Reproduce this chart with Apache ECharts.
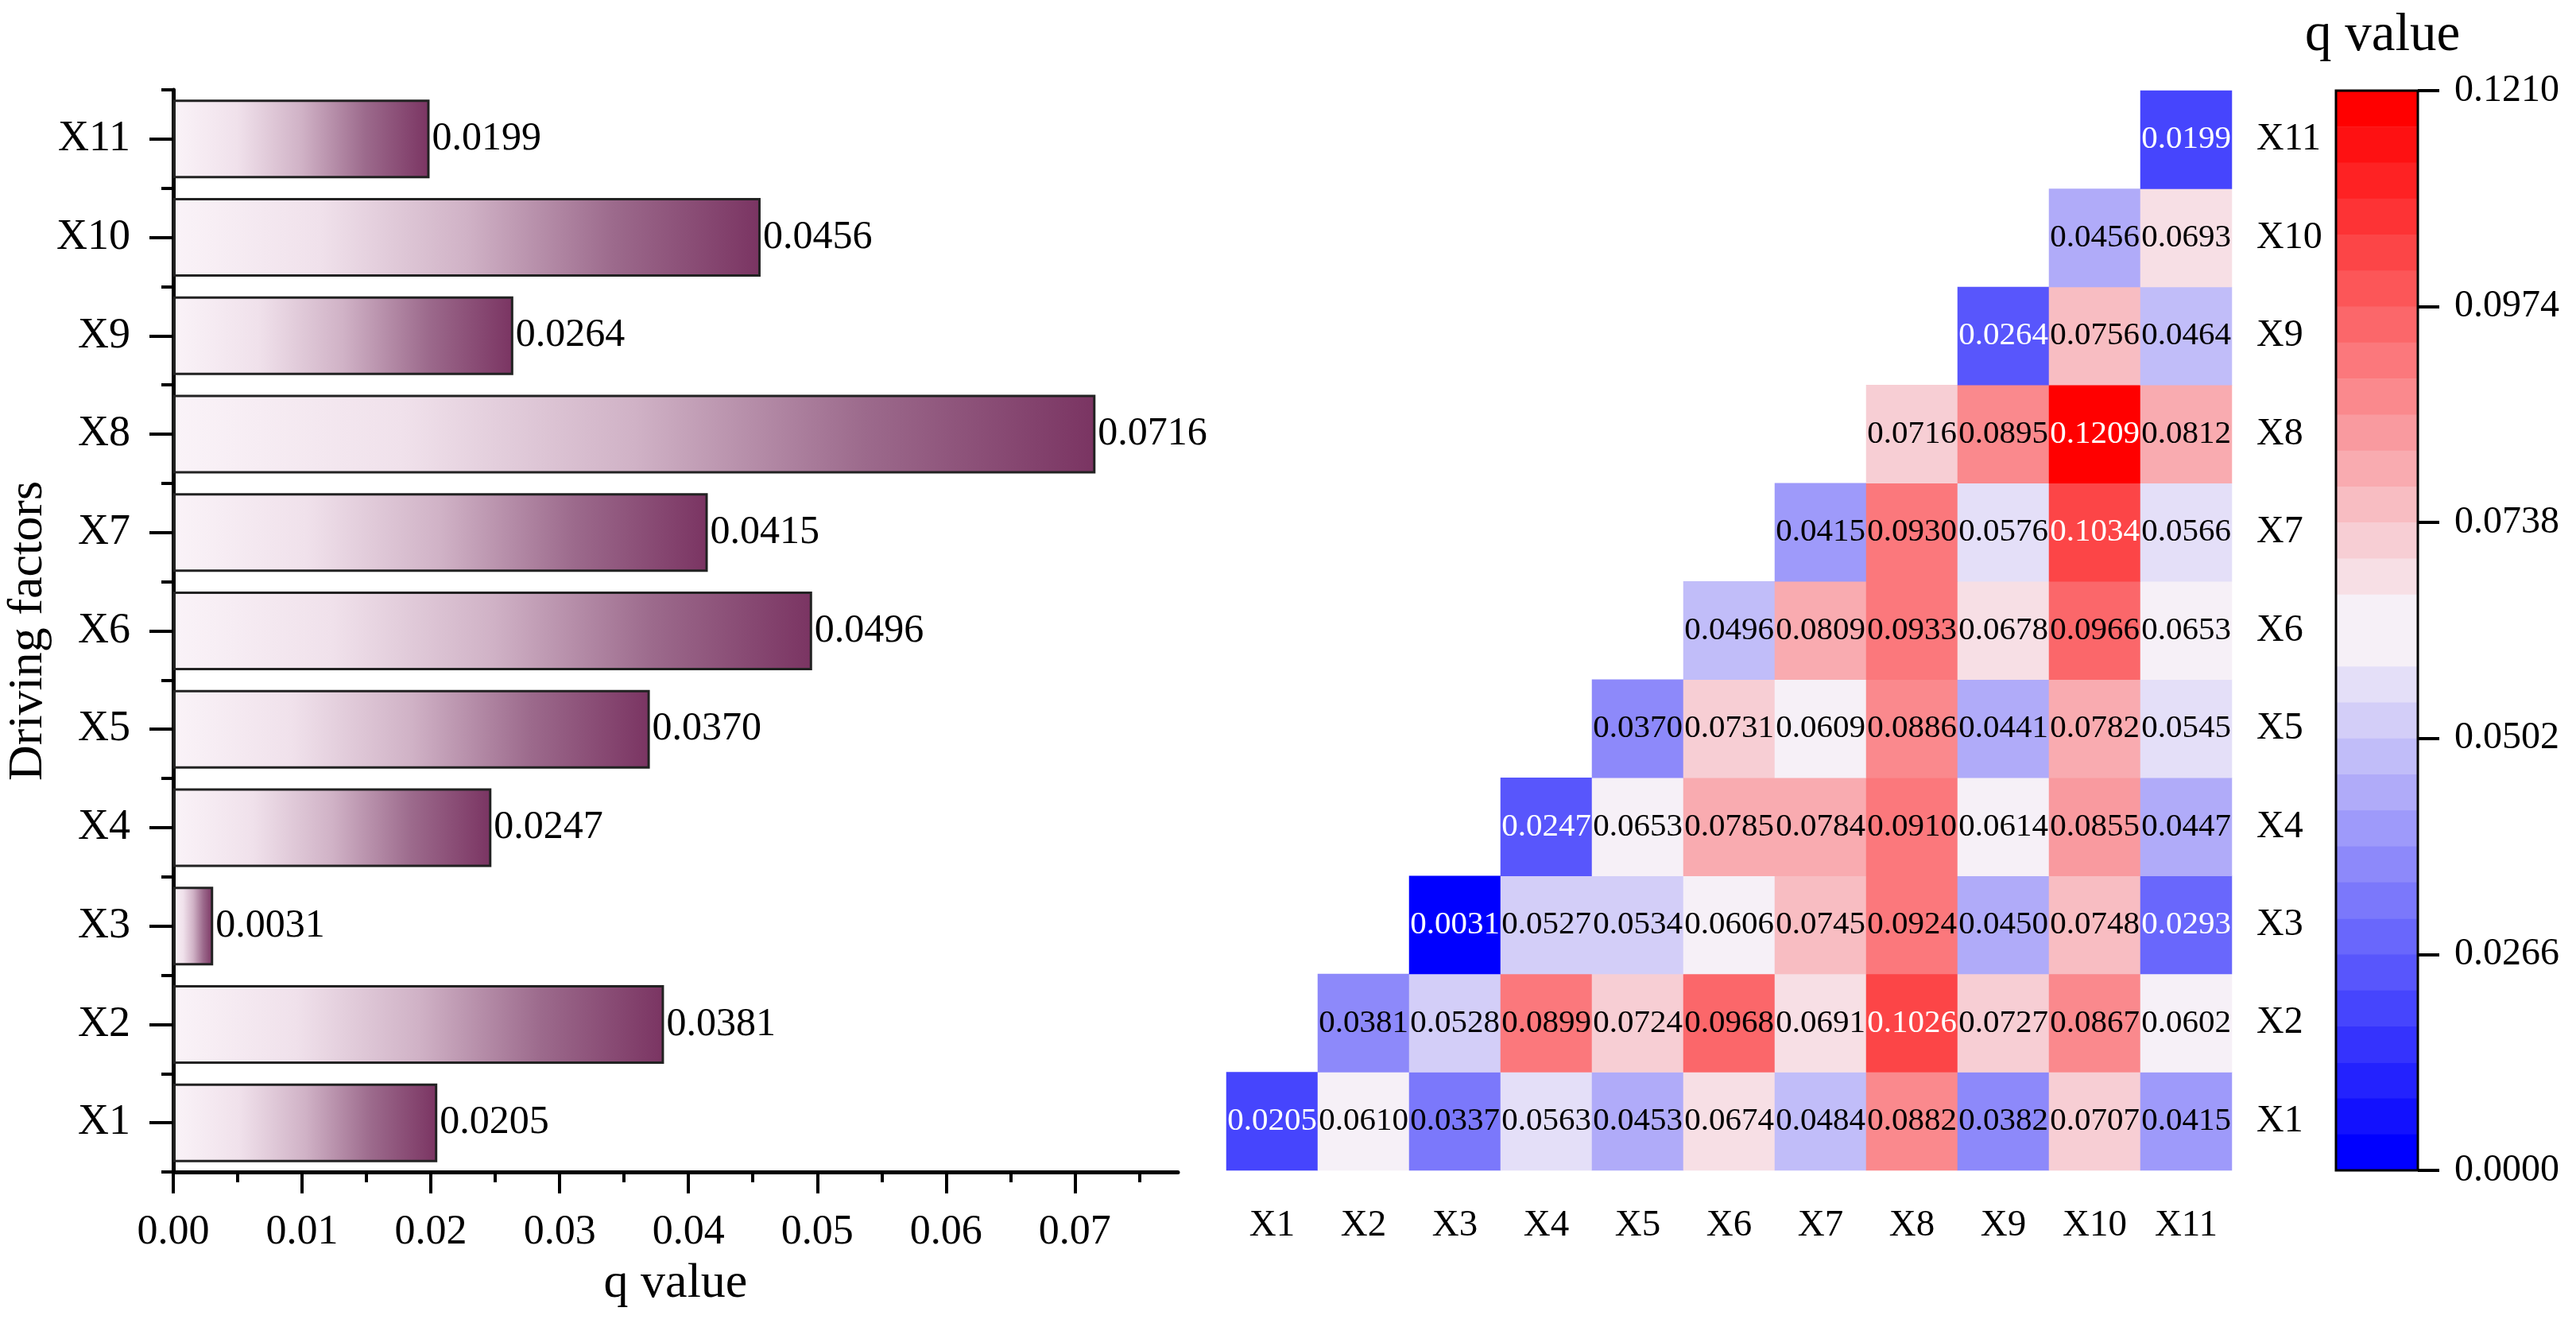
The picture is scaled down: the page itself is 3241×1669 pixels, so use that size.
<!DOCTYPE html>
<html>
<head>
<meta charset="utf-8">
<script src="https://cdn.jsdelivr.net/npm/echarts@6/dist/echarts.min.js"></script>
<style>
  html, body { margin: 0; padding: 0; background: #fff; }
  #main { width: 3241px; height: 1669px; }
</style>
</head>
<body>
<div id="main"></div>
<script>
// driving factors, bottom to top
var factors = ['X1', 'X2', 'X3', 'X4', 'X5', 'X6', 'X7', 'X8', 'X9', 'X10', 'X11'];
// single factor q values
var qValues = [0.0205, 0.0381, 0.0031, 0.0247, 0.0370, 0.0496, 0.0415, 0.0716, 0.0264, 0.0456, 0.0199];
var xTicks = [0, 0.01, 0.02, 0.03, 0.04, 0.05, 0.06, 0.07];
var xMinorTicks = [0.005, 0.015, 0.025, 0.035, 0.045, 0.055, 0.065, 0.075];

// interaction q values, row Xi holds columns Xi..X11
var hmRows = [
  [0.0205, 0.0610, 0.0337, 0.0563, 0.0453, 0.0674, 0.0484, 0.0882, 0.0382, 0.0707, 0.0415],
  [0.0381, 0.0528, 0.0899, 0.0724, 0.0968, 0.0691, 0.1026, 0.0727, 0.0867, 0.0602],
  [0.0031, 0.0527, 0.0534, 0.0606, 0.0745, 0.0924, 0.0450, 0.0748, 0.0293],
  [0.0247, 0.0653, 0.0785, 0.0784, 0.0910, 0.0614, 0.0855, 0.0447],
  [0.0370, 0.0731, 0.0609, 0.0886, 0.0441, 0.0782, 0.0545],
  [0.0496, 0.0809, 0.0933, 0.0678, 0.0966, 0.0653],
  [0.0415, 0.0930, 0.0576, 0.1034, 0.0566],
  [0.0716, 0.0895, 0.1209, 0.0812],
  [0.0264, 0.0756, 0.0464],
  [0.0456, 0.0693],
  [0.0199]
];

// colour bar
var cbMin = 0.003, cbMax = 0.121, cbLevels = 30;
var cbTickValues = [0.003, 0.0266, 0.0502, 0.0738, 0.0974, 0.121];
var cbTickLabels = ['0.0000', '0.0266', '0.0502', '0.0738', '0.0974', '0.1210'];

var FONT = 'Liberation Serif';

// one colour per level: blue -> white (15 levels), white -> red (15 levels)
function mix(a, b, t) {
  var c = a.map(function (v, i) { return Math.round(v + (b[i] - v) * t); });
  return 'rgb(' + c.join(',') + ')';
}
var BLUE = [0, 0, 255], WHITE = [246, 240, 247], RED = [255, 0, 0];
var levelColors = [];
for (var i = 0; i < cbLevels; i++) {
  levelColors.push(i < 15 ? mix(BLUE, WHITE, i / 14) : mix(WHITE, RED, (i - 15) / 14));
}

var hmData = [];
hmRows.forEach(function (row, r) {
  row.forEach(function (v, k) {
    hmData.push({
      value: [r + k, r, v],
      label: { color: (v < 0.0305 || v > 0.1) ? '#ffffff' : '#000000' }
    });
  });
});

var myChart = echarts.init(document.getElementById('main'));

var option = {
  backgroundColor: '#ffffff',
  animation: false,
  textStyle: { fontFamily: FONT },
  title: {
    text: 'q value',
    left: 2900,
    top: 12,
    padding: 0,
    textStyle: { fontFamily: FONT, fontSize: 67, fontWeight: 'normal', color: '#000' }
  },
  grid: [
    { left: 218, top: 113, width: 1264, height: 1361, outerBoundsMode: 'none' },
    { left: 1543, top: 114, width: 1265, height: 1358, outerBoundsMode: 'none' },
    // frame of the colour bar
    { left: 2939, top: 114, width: 103, height: 1358, outerBoundsMode: 'none',
      show: true, z: 10, backgroundColor: 'transparent', borderColor: '#000', borderWidth: 3 },
    // tick scale to the right of the colour bar
    { left: 3042, top: 114, width: 180, height: 1358, outerBoundsMode: 'none' }
  ],
  xAxis: [
    {
      gridIndex: 0, type: 'value', min: 0, max: 0.078, position: 'bottom',
      name: 'q value', nameLocation: 'middle', nameGap: 110,
      nameTextStyle: { fontFamily: FONT, fontSize: 62, color: '#000' },
      axisLine: { show: true, lineStyle: { color: '#000', width: 5 } },
      axisTick: { show: true, length: 27, customValues: xTicks, lineStyle: { color: '#000', width: 4 } },
      axisLabel: { customValues: xTicks, margin: 50, fontFamily: FONT, fontSize: 52, color: '#000',
        formatter: function (v) { return v.toFixed(2); } },
      splitLine: { show: false }
    },
    {
      gridIndex: 0, type: 'value', min: 0, max: 0.078, position: 'bottom',
      axisLine: { show: false },
      axisTick: { show: true, length: 13, customValues: xMinorTicks, lineStyle: { color: '#000', width: 4 } },
      axisLabel: { show: false },
      splitLine: { show: false }
    },
    {
      gridIndex: 1, type: 'category', data: factors, position: 'bottom',
      axisLine: { show: false }, axisTick: { show: false },
      axisLabel: { margin: 46, fontFamily: FONT, fontSize: 47, color: '#000' },
      splitLine: { show: false }
    },
    { gridIndex: 2, type: 'value', show: false, min: 0, max: 1 },
    { gridIndex: 3, type: 'value', show: false, min: 0, max: 1 }
  ],
  yAxis: [
    {
      gridIndex: 0, type: 'category', data: factors, position: 'left',
      name: 'Driving factors', nameLocation: 'middle', nameGap: 110,
      nameTextStyle: { fontFamily: FONT, fontSize: 62, color: '#000' },
      axisLine: { show: true, lineStyle: { color: '#000', width: 5 } },
      axisTick: { show: true, alignWithLabel: true, length: 30, lineStyle: { color: '#000', width: 4 } },
      axisLabel: { margin: 54, fontFamily: FONT, fontSize: 54, color: '#000' }
    },
    {
      gridIndex: 0, type: 'category', data: factors, position: 'left',
      axisLine: { show: false },
      axisTick: { show: true, alignWithLabel: false, length: 15, lineStyle: { color: '#000', width: 4 } },
      axisLabel: { show: false }
    },
    {
      gridIndex: 1, type: 'category', data: factors, position: 'right',
      axisLine: { show: false }, axisTick: { show: false },
      axisLabel: { margin: 31, fontFamily: FONT, fontSize: 48, color: '#000', align: 'left' },
      splitLine: { show: false }
    },
    { gridIndex: 2, type: 'value', show: false, min: cbMin, max: cbMax },
    {
      gridIndex: 3, type: 'value', min: cbMin, max: cbMax, position: 'left', z: 10,
      axisLine: { show: false, onZero: false },
      axisTick: { show: true, inside: true, length: 27, customValues: cbTickValues, lineStyle: { color: '#000', width: 4 } },
      axisLabel: {
        inside: true, customValues: cbTickValues, margin: 46, fontFamily: FONT, fontSize: 48, color: '#000',
        formatter: function (v) {
          var i = cbTickValues.indexOf(v);
          return i >= 0 ? cbTickLabels[i] : '';
        }
      },
      splitLine: { show: false }
    }
  ],
  visualMap: {
    type: 'piecewise',
    seriesIndex: 1,
    min: cbMin,
    max: cbMax,
    splitNumber: cbLevels,
    precision: 6,
    orient: 'vertical',
    left: 2939,
    top: 114,
    padding: 0,
    itemWidth: 103,
    itemHeight: 1358 / cbLevels + 0.6,
    itemGap: -0.6,
    itemSymbol: 'rect',
    showLabel: false,
    selectedMode: false,
    hoverLink: false,
    inRange: { color: levelColors }
  },
  series: [
    {
      name: 'q value',
      type: 'bar',
      xAxisIndex: 0,
      yAxisIndex: 0,
      data: qValues,
      barCategoryGap: '20%',
      itemStyle: {
        color: new echarts.graphic.LinearGradient(0, 0, 1, 0, [
          { offset: 0, color: '#FAF3F8' },
          { offset: 0.25, color: '#F0E1EB' },
          { offset: 0.5, color: '#D0B2C6' },
          { offset: 0.75, color: '#9C6A8C' },
          { offset: 1, color: '#7A3462' }
        ]),
        borderColor: '#222',
        borderWidth: 3
      },
      label: {
        show: true, position: 'right', distance: 3,
        fontFamily: FONT, fontSize: 50, color: '#000',
        formatter: function (p) { return p.value.toFixed(4); }
      }
    },
    {
      name: 'interaction',
      type: 'heatmap',
      xAxisIndex: 2,
      yAxisIndex: 2,
      data: hmData,
      label: {
        show: true, fontFamily: FONT, fontSize: 41,
        formatter: function (p) { return p.value[2].toFixed(4); }
      },
      emphasis: { disabled: true }
    }
  ]
};

myChart.setOption(option);
</script>
</body>
</html>
